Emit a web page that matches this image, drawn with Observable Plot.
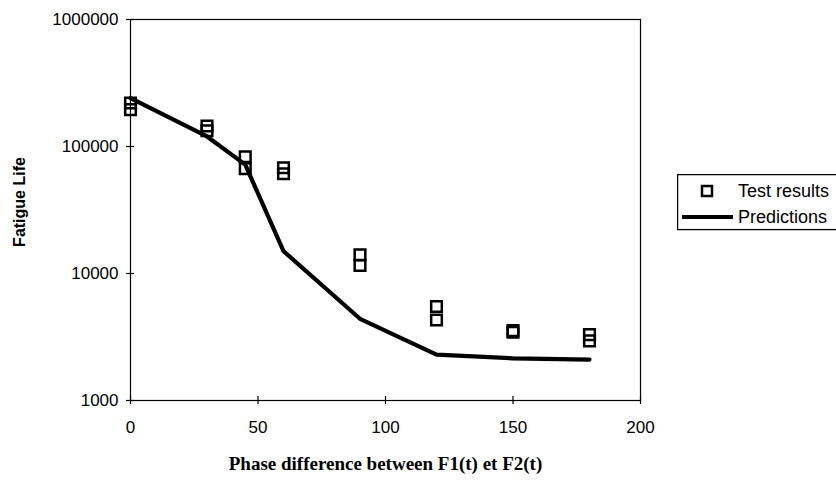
<!DOCTYPE html>
<html>
<head>
<meta charset="utf-8">
<script src="https://cdn.jsdelivr.net/npm/d3@7"></script>
<script src="https://cdn.jsdelivr.net/npm/@observablehq/plot@0.6"></script>
<style>
  html, body { margin: 0; padding: 0; background: #fff; }
  #wrap { position: relative; width: 836px; height: 481px; overflow: hidden; }
  #legend { position: absolute; left: 677px; top: 174px; }
</style>
</head>
<body>
<div id="wrap"></div>
<script>
// Predictions (line)
const phase = [0, 30, 45, 60, 90, 120, 150, 180];
const predictions = [240000, 120000, 72000, 15000, 4400, 2300, 2150, 2100];
// Test results (open squares)
const testPhase = [0, 0, 30, 30, 45, 45, 60, 60, 90, 90, 120, 120, 150, 150, 180, 180];
const testLife = [220000, 195000, 145000, 133000, 83000, 67000, 68000, 61000, 14000, 11600, 5500, 4300, 3550, 3450, 3300, 2950];
// Ticks
const xTicks = [0, 50, 100, 150, 200];
const yTicks = [1000, 10000, 100000, 1000000];
const seriesNames = ["Test results", "Predictions"];
const xTitle = "Phase difference between F1(t) et F2(t)";
const yTitle = "Fatigue Life";

const lineData = phase.map((p, i) => ({phase: p, life: predictions[i]}));
const testData = testPhase.map((p, i) => ({phase: p, life: testLife[i]}));

const chart = Plot.plot({
  width: 836,
  height: 481,
  marginLeft: 130,
  marginRight: 196,
  marginTop: 19,
  marginBottom: 81,
  style: {fontFamily: "'Liberation Sans', Arial, sans-serif", fontSize: "17px", color: "#000", background: "#fff"},
  x: {domain: [0, 200]},
  y: {type: "log", domain: [1000, 1000000]},
  marks: [
    Plot.frame({stroke: "#000", strokeWidth: 1.2}),
    Plot.axisY({ticks: yTicks, tickSize: 0, tickPadding: 12, tickFormat: d => String(d), fontSize: 17, label: null}),
    Plot.axisY({ticks: yTicks, tickSize: 8, dx: 4, tickFormat: () => "", label: null, strokeWidth: 1.2}),
    Plot.axisX({ticks: xTicks, tickSize: 0, tickPadding: 20, tickFormat: d => String(d), fontSize: 17, label: null}),
    Plot.axisX({ticks: xTicks, tickSize: 8, dy: -4, tickFormat: () => "", label: null, strokeWidth: 1.2}),
    Plot.line(lineData, {x: "phase", y: "life", stroke: "#000", strokeWidth: 4.2, strokeLinejoin: "round"}),
    Plot.dot(testData, {x: "phase", y: "life", symbol: "square", r: 6, stroke: "#000", strokeWidth: 2.5, fill: "none"}),
    Plot.text([xTitle], {frameAnchor: "bottom", dy: 63, lineAnchor: "middle", textAnchor: "middle", text: d => d, fontFamily: "'Liberation Serif', 'Times New Roman', serif", fontWeight: "bold", fontSize: 19}),
    Plot.text([yTitle], {frameAnchor: "left", dx: -111, dy: -8, rotate: -90, textAnchor: "middle", lineAnchor: "middle", text: d => d, fontWeight: "bold", fontSize: 16})
  ]
});

const wrap = document.getElementById("wrap");
wrap.appendChild(chart);

// Legend
const legend = document.createElement("div");
legend.id = "legend";
legend.innerHTML = `
<svg width="170" height="58" xmlns="http://www.w3.org/2000/svg" style="font-family:'Liberation Sans', Arial, sans-serif; font-size:18px;">
  <rect x="0.6" y="0.6" width="200" height="55" fill="#fff" stroke="#000" stroke-width="1.3"/>
  <rect x="25" y="12" width="10" height="10" fill="none" stroke="#000" stroke-width="2.5"/>
  <text x="61" y="17" dominant-baseline="central">${seriesNames[0]}</text>
  <line x1="5" y1="43" x2="56" y2="43" stroke="#000" stroke-width="4"/>
  <text x="61" y="43" dominant-baseline="central">${seriesNames[1]}</text>
</svg>`;
wrap.appendChild(legend);
</script>
</body>
</html>
